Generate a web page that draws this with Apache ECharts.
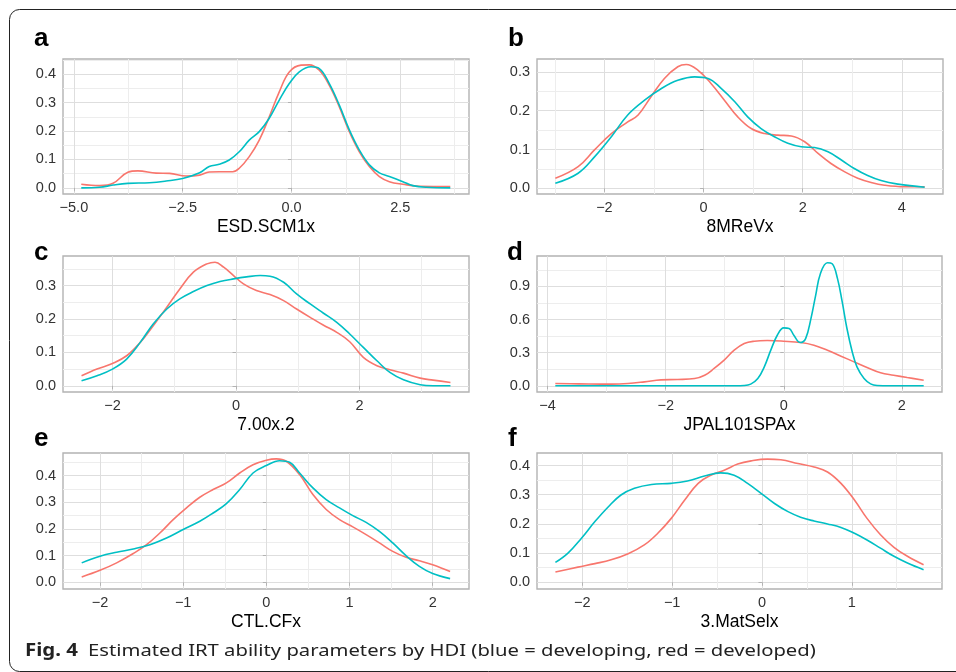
<!DOCTYPE html>
<html>
<head>
<meta charset="utf-8">
<script src="https://cdn.jsdelivr.net/npm/echarts@6/dist/echarts.min.js"></script>
<style>
html,body{margin:0;padding:0;background:#fff;}
#chart{width:956px;height:672px;}
</style>
</head>
<body>
<div id="chart"></div>
<script>
// ---------- DATA ----------
const panelLetters = ['a','b','c','d','e','f'];
const axisTitles = ['ESD.SCM1x','8MReVx','7.00x.2','JPAL101SPAx','CTL.CFx','3.MatSelx'];
const seriesNames = ['developed','developing'];
const captionBold = 'Fig. 4';
const captionText = 'Estimated IRT ability parameters by HDI (blue = developing, red = developed)';

// panel a
const aXRange = [-5.25, 4.08], aYRange = [-0.0215, 0.4535];
const aXTicks = [-5, -2.5, 0, 2.5], aXMinor = [-3.75, -1.25, 1.25, 3.75];
const aYTicks = [0, 0.1, 0.2, 0.3, 0.4], aYMinor = [0.05, 0.15, 0.25, 0.35, 0.45];
const aRedX = [-4.83,-4.41,-4.1,-3.76,-3.53,-3.11,-2.8,-2.42,-2.11,-1.89,-1.66,-1.35,-1.2,-0.97,-0.74,-0.51,-0.28,-0.05,0.22,0.41,0.64,0.87,1.1,1.33,1.56,1.79,2.02,2.25,2.56,2.94,3.65];
const aRedY = [0.013,0.008,0.016,0.055,0.060,0.052,0.051,0.042,0.045,0.056,0.057,0.057,0.069,0.11,0.168,0.25,0.338,0.408,0.432,0.433,0.414,0.361,0.285,0.198,0.127,0.075,0.04,0.022,0.013,0.006,0.005];
const aBlueX = [-4.83,-4.41,-4.1,-3.76,-3.26,-2.88,-2.5,-2.11,-1.89,-1.66,-1.43,-1.2,-0.97,-0.74,-0.51,-0.28,-0.05,0.18,0.45,0.64,0.87,1.1,1.33,1.56,1.79,2.02,2.25,2.56,2.79,3.1,3.65];
const aBlueY = [0.0,0.002,0.01,0.016,0.018,0.024,0.033,0.053,0.075,0.083,0.098,0.127,0.168,0.198,0.245,0.309,0.367,0.408,0.426,0.42,0.367,0.291,0.204,0.133,0.081,0.053,0.04,0.022,0.008,0.002,0.0];

// panel b
const bXRange = [-3.36, 4.83], bYRange = [-0.0145, 0.333];
const bXTicks = [-2, 0, 2, 4], bXMinor = [-3, -1, 1, 3];
const bYTicks = [0, 0.1, 0.2, 0.3], bYMinor = [0.05, 0.15, 0.25];
const bRedX = [-2.99,-2.53,-2.2,-1.86,-1.53,-1.32,-1.06,-0.79,-0.52,-0.35,-0.11,0.15,0.42,0.69,0.96,1.23,1.5,1.77,2.04,2.31,2.57,2.84,3.11,3.38,3.65,4.05,4.46];
const bRedY = [0.026,0.056,0.099,0.141,0.171,0.189,0.236,0.283,0.313,0.319,0.304,0.27,0.227,0.184,0.154,0.141,0.137,0.135,0.12,0.09,0.064,0.043,0.026,0.015,0.008,0.004,0.004];
const bBlueX = [-2.99,-2.53,-2.2,-1.86,-1.53,-1.19,-0.85,-0.52,-0.18,0.09,0.36,0.63,0.89,1.16,1.43,1.7,1.97,2.24,2.51,2.78,3.04,3.31,3.58,3.92,4.46];
const bBlueY = [0.013,0.039,0.081,0.133,0.189,0.227,0.257,0.278,0.287,0.283,0.257,0.223,0.184,0.154,0.133,0.116,0.107,0.105,0.094,0.073,0.051,0.033,0.02,0.011,0.003];

// panel c
const cXRange = [-2.8, 3.77], cYRange = [-0.0185, 0.3885];
const cXTicks = [-2, 0, 2], cXMinor = [-1, 1, 3];
const cYTicks = [0, 0.1, 0.2, 0.3], cYMinor = [0.05, 0.15, 0.25, 0.35];
const cRedX = [-2.5,-2.25,-2.0,-1.77,-1.55,-1.34,-1.12,-0.91,-0.69,-0.47,-0.34,-0.2,-0.04,0.12,0.33,0.55,0.77,0.98,1.2,1.41,1.63,1.84,2.06,2.28,2.49,2.71,2.98,3.19,3.47];
const cRedY = [0.03,0.05,0.067,0.09,0.13,0.18,0.235,0.29,0.34,0.365,0.37,0.355,0.33,0.305,0.285,0.273,0.255,0.23,0.205,0.182,0.16,0.132,0.085,0.06,0.048,0.038,0.023,0.017,0.01];
const cBlueX = [-2.5,-2.25,-2.0,-1.77,-1.55,-1.34,-1.12,-0.91,-0.69,-0.47,-0.26,-0.04,0.17,0.39,0.55,0.77,0.98,1.2,1.41,1.63,1.84,2.06,2.28,2.49,2.71,2.98,3.19,3.47];
const cBlueY = [0.015,0.03,0.05,0.08,0.13,0.185,0.23,0.26,0.282,0.3,0.312,0.32,0.326,0.33,0.328,0.31,0.275,0.245,0.218,0.19,0.155,0.115,0.075,0.04,0.018,0.003,0.0,0.0];

// panel d
const dXRange = [-4.18, 2.68], dYRange = [-0.056, 1.176];
const dXTicks = [-4, -2, 0, 2], dXMinor = [-3, -1, 1];
const dYTicks = [0, 0.3, 0.6, 0.9], dYMinor = [0.15, 0.45, 0.75, 1.05];
const dRedX = [-3.87,-3.48,-2.92,-2.64,-2.36,-2.08,-1.8,-1.51,-1.34,-1.18,-1.01,-0.84,-0.67,-0.5,-0.28,0.0,0.29,0.51,0.74,0.96,1.19,1.41,1.64,1.86,2.09,2.37];
const dRedY = [0.021,0.018,0.015,0.021,0.036,0.054,0.057,0.066,0.096,0.157,0.232,0.323,0.383,0.404,0.41,0.404,0.392,0.368,0.323,0.271,0.217,0.166,0.118,0.096,0.075,0.051];
const dBlueX = [-3.87,-1.0,-0.67,-0.56,-0.44,-0.33,-0.22,-0.11,0.0,0.09,0.17,0.28,0.37,0.46,0.54,0.62,0.74,0.82,0.91,0.99,1.07,1.16,1.24,1.36,1.47,1.58,1.8,2.37];
const dBlueY = [0,0,0.003,0.015,0.066,0.172,0.323,0.458,0.525,0.52,0.458,0.392,0.428,0.609,0.82,1.016,1.115,1.106,0.971,0.76,0.519,0.307,0.172,0.066,0.018,0.003,0,0];

// panel e
const eXRange = [-2.445, 2.437], eYRange = [-0.025, 0.485];
const eXTicks = [-2, -1, 0, 1, 2], eXMinor = [-1.5, -0.5, 0.5, 1.5];
const eYTicks = [0, 0.1, 0.2, 0.3, 0.4], eYMinor = [0.05, 0.15, 0.25, 0.35, 0.45];
const eRedX = [-2.22,-2.0,-1.8,-1.6,-1.44,-1.28,-1.12,-0.96,-0.8,-0.64,-0.48,-0.32,-0.16,0,0.12,0.24,0.4,0.56,0.72,0.88,1.04,1.2,1.36,1.52,1.68,1.84,2.0,2.21];
const eRedY = [0.02,0.045,0.073,0.108,0.141,0.185,0.235,0.279,0.319,0.348,0.373,0.41,0.441,0.458,0.463,0.454,0.404,0.329,0.273,0.235,0.208,0.179,0.148,0.116,0.094,0.081,0.066,0.041];
const eBlueX = [-2.22,-2.0,-1.8,-1.6,-1.4,-1.2,-1.0,-0.8,-0.64,-0.48,-0.32,-0.16,0,0.16,0.28,0.4,0.56,0.72,0.88,1.04,1.2,1.36,1.52,1.68,1.84,2.0,2.21];
const eBlueY = [0.073,0.098,0.113,0.125,0.141,0.166,0.198,0.229,0.26,0.295,0.348,0.41,0.438,0.456,0.45,0.41,0.354,0.31,0.279,0.25,0.225,0.191,0.148,0.1,0.06,0.033,0.014];

// panel f
const fXRange = [-2.505, 2.005], fYRange = [-0.023, 0.443];
const fXTicks = [-2, -1, 0, 1], fXMinor = [-1.5, -0.5, 0.5, 1.5];
const fYTicks = [0, 0.1, 0.2, 0.3, 0.4], fYMinor = [0.05, 0.15, 0.25, 0.35];
const fRedX = [-2.3,-2.05,-1.86,-1.68,-1.49,-1.31,-1.16,-1.01,-0.86,-0.71,-0.57,-0.42,-0.27,-0.12,0.06,0.21,0.4,0.58,0.73,0.88,1.03,1.17,1.32,1.47,1.62,1.8];
const fRedY = [0.035,0.052,0.064,0.077,0.098,0.128,0.168,0.219,0.282,0.339,0.367,0.384,0.405,0.416,0.422,0.42,0.407,0.395,0.378,0.339,0.282,0.219,0.163,0.12,0.089,0.06];
const fBlueX = [-2.3,-2.16,-2.01,-1.86,-1.71,-1.57,-1.42,-1.23,-1.01,-0.83,-0.64,-0.46,-0.31,-0.16,-0.01,0.14,0.29,0.43,0.58,0.73,0.88,1.03,1.17,1.32,1.47,1.62,1.8];
const fBlueY = [0.068,0.1,0.151,0.208,0.259,0.299,0.322,0.335,0.339,0.347,0.364,0.375,0.367,0.339,0.305,0.27,0.242,0.223,0.21,0.2,0.188,0.168,0.145,0.117,0.089,0.066,0.043];

// x label decimals per panel
const xDecimals = [1, 0, 0, 0, 0, 0];

// ---------- LAYOUT / STYLE ----------
const gridBoxes = [
  [63, 59, 406, 135], [537, 59, 406, 135],
  [63, 256, 406, 136], [537, 256, 405, 136],
  [63, 453, 406, 136], [537, 453, 405, 136]
];
const letterPos = [[34, 39], [508, 39], [34, 253], [507, 253], [34, 439], [508, 439]];
const RED = '#F8766D', BLUE = '#00BFC4';
const FONT = '"Liberation Sans", Arial, sans-serif';

const panels = [
  {xr:aXRange, yr:aYRange, xt:aXTicks, xm:aXMinor, yt:aYTicks, ym:aYMinor, red:[aRedX,aRedY], blue:[aBlueX,aBlueY]},
  {xr:bXRange, yr:bYRange, xt:bXTicks, xm:bXMinor, yt:bYTicks, ym:bYMinor, red:[bRedX,bRedY], blue:[bBlueX,bBlueY]},
  {xr:cXRange, yr:cYRange, xt:cXTicks, xm:cXMinor, yt:cYTicks, ym:cYMinor, red:[cRedX,cRedY], blue:[cBlueX,cBlueY]},
  {xr:dXRange, yr:dYRange, xt:dXTicks, xm:dXMinor, yt:dYTicks, ym:dYMinor, red:[dRedX,dRedY], blue:[dBlueX,dBlueY]},
  {xr:eXRange, yr:eYRange, xt:eXTicks, xm:eXMinor, yt:eYTicks, ym:eYMinor, red:[eRedX,eRedY], blue:[eBlueX,eBlueY]},
  {xr:fXRange, yr:fYRange, xt:fXTicks, xm:fXMinor, yt:fYTicks, ym:fYMinor, red:[fRedX,fRedY], blue:[fBlueX,fBlueY]}
];

function fmt(v, dec) {
  const s = Number(v).toFixed(dec);
  return s.replace('-', '\u2212');
}
function pairs(xs, ys) { return xs.map((x, i) => [x, ys[i]]); }

const grids = [], xAxes = [], yAxes = [], series = [], graphics = [];

panels.forEach((p, i) => {
  const g = gridBoxes[i];
  grids.push({left: g[0], top: g[1], width: g[2], height: g[3], show: true,
    borderColor: '#B3B3B3', borderWidth: 1.4, backgroundColor: 'transparent', containLabel: false});
  // minor x
  xAxes.push({type: 'value', gridIndex: i, min: p.xr[0], max: p.xr[1], position: 'bottom',
    axisLine: {show: false}, axisTick: {show: false, customValues: p.xm},
    axisLabel: {show: false}, splitLine: {show: true, lineStyle: {color: '#EDEDED', width: 1}}});
  // major x
  xAxes.push({type: 'value', gridIndex: i, min: p.xr[0], max: p.xr[1], position: 'bottom',
    axisLine: {show: false},
    axisTick: {show: true, length: 3.5, lineStyle: {color: '#B3B3B3', width: 1}, customValues: p.xt},
    axisLabel: {show: true, customValues: p.xt, margin: 6, color: '#333', fontSize: 14.5, fontFamily: FONT,
      formatter: (v) => fmt(v, xDecimals[i])},
    splitLine: {show: true, lineStyle: {color: '#DEDEDE', width: 1}},
    name: axisTitles[i], nameLocation: 'middle', nameGap: 24,
    nameTextStyle: {color: '#000', fontSize: 17.5, fontFamily: FONT}});
  // minor y
  yAxes.push({type: 'value', gridIndex: i, min: p.yr[0], max: p.yr[1], position: 'left',
    axisLine: {show: false}, axisTick: {show: false, customValues: p.ym},
    axisLabel: {show: false}, splitLine: {show: true, lineStyle: {color: '#EDEDED', width: 1}}});
  // major y
  yAxes.push({type: 'value', gridIndex: i, min: p.yr[0], max: p.yr[1], position: 'left',
    axisLine: {show: false},
    axisTick: {show: true, length: 3.5, lineStyle: {color: '#B3B3B3', width: 1}, customValues: p.yt},
    axisLabel: {show: true, customValues: p.yt, margin: 7, color: '#333', fontSize: 14.5, fontFamily: FONT,
      formatter: (v) => fmt(v, 1)},
    splitLine: {show: true, lineStyle: {color: '#DEDEDE', width: 1}}});

  series.push({type: 'line', name: seriesNames[0], xAxisIndex: 2 * i + 1, yAxisIndex: 2 * i + 1,
    data: pairs(p.red[0], p.red[1]), showSymbol: false, smooth: 0.4, silent: true,
    lineStyle: {color: RED, width: 1.6}, itemStyle: {color: RED}, z: 3});
  series.push({type: 'line', name: seriesNames[1], xAxisIndex: 2 * i + 1, yAxisIndex: 2 * i + 1,
    data: pairs(p.blue[0], p.blue[1]), showSymbol: false, smooth: 0.4, silent: true,
    lineStyle: {color: BLUE, width: 1.6}, itemStyle: {color: BLUE}, z: 4});

  graphics.push({type: 'text', x: letterPos[i][0], y: letterPos[i][1],
    style: {text: panelLetters[i], fill: '#000', font: 'bold 26px ' + FONT, align: 'left', verticalAlign: 'middle'}});
});

graphics.push({type: 'rect', shape: {x: 9.5, y: 9.5, width: 1000, height: 662, r: 10},
  style: {fill: 'none', stroke: '#222', lineWidth: 1}, silent: true});
graphics.push({type: 'text', x: 25, y: 651, scaleX: 1.2,
  style: {text: captionBold, fill: '#222', font: 'bold 17px "Noto Sans", sans-serif', align: 'left', verticalAlign: 'middle'}});
graphics.push({type: 'text', x: 88, y: 651, scaleX: 1.19,
  style: {text: captionText, fill: '#222', font: '17px "Noto Sans", sans-serif', align: 'left', verticalAlign: 'middle'}});

const chart = echarts.init(document.getElementById('chart'), null, {renderer: 'canvas'});
chart.setOption({
  animation: false,
  backgroundColor: '#fff',
  grid: grids,
  xAxis: xAxes,
  yAxis: yAxes,
  series: series,
  graphic: graphics
});
</script>
</body>
</html>
